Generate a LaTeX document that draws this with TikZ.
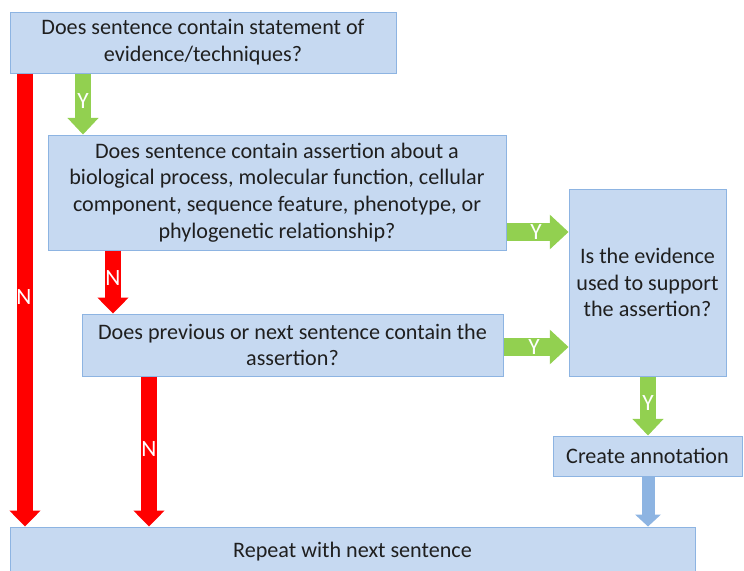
\documentclass[tikz,border=0pt]{standalone}
\usepackage{fontspec}
\setmainfont{Carlito}
\usetikzlibrary{arrows.meta,calc}
\definecolor{boxfill}{RGB}{198,217,241}
\definecolor{boxline}{RGB}{141,180,226}
\definecolor{grn}{RGB}{146,208,80}
\definecolor{rdd}{RGB}{255,0,0}
\definecolor{blu}{RGB}{141,180,226}
\begin{document}
\begin{tikzpicture}[x=0.75pt,y=-0.75pt,
  box/.style={draw=boxline, fill=boxfill, line width=0.75pt, inner sep=0pt,
    align=center, font=\fontsize{16.6pt}{20pt}\selectfont, text=black!88},
  lbl/.style={text=white, inner sep=0pt, font=\fontsize{17.5pt}{17.5pt}\selectfont},
  redarr/.style={draw=rdd, line width=12pt, -{Triangle[length=12pt,width=23.5pt,line width=0pt]}},
  grnv/.style={draw=grn, line width=12pt, -{Triangle[length=12.5pt,width=23.5pt,line width=0pt]}},
  grnh/.style={draw=grn, line width=13.5pt, -{Triangle[length=14pt,width=26pt,line width=0pt]}},
  bluarr/.style={draw=blu, line width=9.75pt, -{Triangle[length=9pt,width=19.5pt,line width=0pt]}}]
\useasboundingbox (0,0) rectangle (744,571);
\clip (0,0) rectangle (744,571);

\node[box, minimum width=289.5pt, minimum height=45.75pt] (b1) at (203,42.5)
  {Does sentence contain statement of\\evidence/techniques?};
\node[box, minimum width=343.5pt, minimum height=86.25pt] (b2) at (277,192.5)
  {Does sentence contain assertion about a\\biological process, molecular function, cellular\\component, sequence feature, phenotype, or\\phylogenetic relationship?};
\node[box, minimum width=315.75pt, minimum height=46.5pt] (b3) at (292.5,345)
  {Does previous or next sentence contain the\\assertion?};
\node[box, minimum width=117.75pt, minimum height=140.25pt] (b4) at (647.5,282.5)
  {Is the evidence\\used to support\\the assertion?};
\node[box, minimum width=141.75pt, minimum height=30pt] (b5) at (647.5,456)
  {Create annotation};
\node[box, minimum width=513.75pt, minimum height=37.5pt] (b6) at (352.5,552)
  {Repeat with next sentence};

\coordinate (cA) at (25,0);
\coordinate (cB) at (83,0);
\coordinate (cC) at (113,0);
\coordinate (cD) at (149,0);
\coordinate (cE) at (0,232);
\coordinate (cF) at (0,347);
\coordinate (cG) at (648,0);

\draw[redarr] (b1.south -| cA) -- (b6.north -| cA);
\draw[grnv] (b1.south -| cB) -- (b2.north -| cB);
\draw[redarr] (b2.south -| cC) -- (b3.north -| cC);
\draw[redarr] (b3.south -| cD) -- (b6.north -| cD);
\draw[grnh] (b2.east |- cE) -- (b4.west |- cE);
\draw[grnh] (b3.east |- cF) -- (b4.west |- cF);
\draw[grnv] (b4.south -| cG) -- (b5.north -| cG);
\draw[bluarr] (b5.south -| cG) -- (b6.north -| cG);

\node[lbl] (n1) at (24,297) {N};
\node[lbl] (y1) at (83,101) {Y};
\node[lbl] (n2) at (113,278) {N};
\node[lbl] (n3) at (149,449) {N};
\node[lbl] (y2) at (536,232.5) {Y};
\node[lbl] (y3) at (534,347) {Y};
\node[lbl] (y4) at (648,403) {Y};
\end{tikzpicture}
\end{document}
